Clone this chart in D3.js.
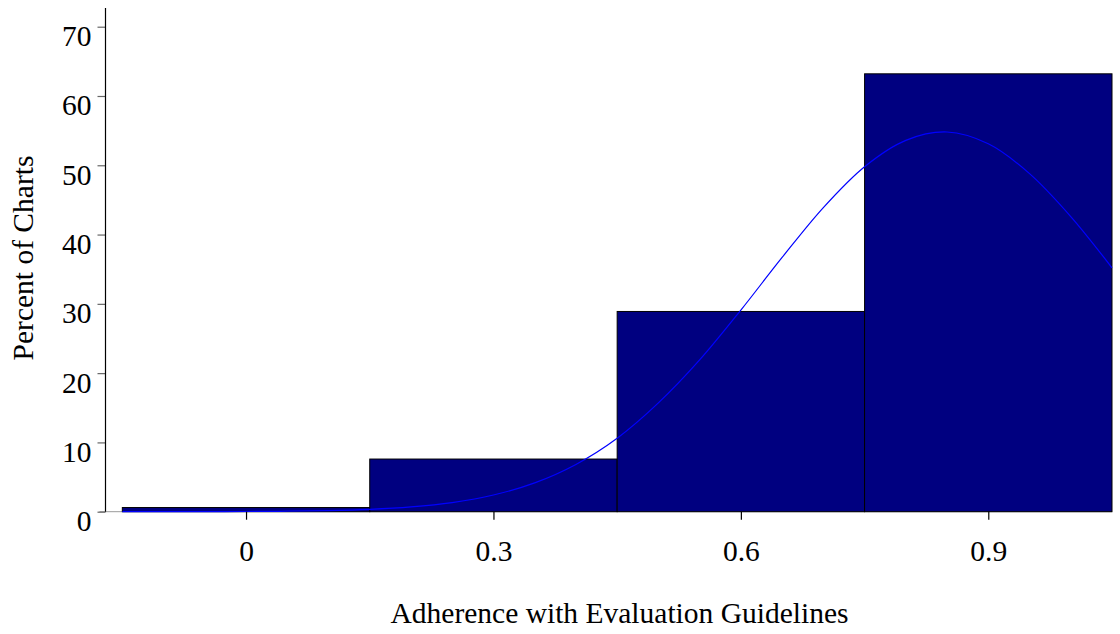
<!DOCTYPE html>
<html>
<head>
<meta charset="utf-8">
<script src="https://cdn.jsdelivr.net/npm/d3@7"></script>
<style>
  html, body { margin: 0; padding: 0; background: #fff; }
  svg { display: block; }
  text { font-family: "Liberation Serif", "Times New Roman", serif; fill: #000; }
</style>
</head>
<body>
<svg id="chart" width="1120" height="634"></svg>
<script>
// Histogram bins (centre of each bin) and the percent of charts in each
const binCenters = [0, 0.3, 0.6, 0.9];
const binWidth = 0.3;
const percents = [0.6, 7.6, 28.9, 63.2];

// Fitted density overlay, sampled along the x axis
const curveX = [-0.15, -0.1, -0.05, 0, 0.05, 0.1, 0.15, 0.2, 0.25, 0.3, 0.35, 0.4, 0.45, 0.5,
                0.55, 0.6, 0.65, 0.7, 0.75, 0.8, 0.85, 0.9, 0.95, 1.0, 1.05];
const curveY = [0.0, 0.0, 0.01, 0.03, 0.07, 0.16, 0.34, 0.69, 1.32, 2.41, 4.16, 6.82, 10.6, 15.7,
                21.9, 29.1, 36.7, 43.9, 49.8, 53.6, 54.8, 53.1, 48.8, 42.6, 35.2];

const xTicks = [0, 0.3, 0.6, 0.9];
const yTicks = [0, 10, 20, 30, 40, 50, 60, 70];

const fontSize = 29.5;

const svg = d3.select("#chart");

const plot = { left: 105.5, right: 1112, top: 8, bottom: 511.7 };

const x = d3.scaleLinear().domain([-0.1704, 1.05]).range([plot.left, plot.right]);
const y = d3.scaleLinear().domain([0, 72.7]).range([plot.bottom, plot.top]);

// baseline
svg.append("line")
  .attr("x1", plot.left - 6).attr("x2", plot.right)
  .attr("y1", y(0)).attr("y2", y(0))
  .attr("stroke", "#9a9a9a").attr("stroke-width", 1);

// bars
svg.append("g").selectAll("rect")
  .data(binCenters.map((c, i) => ({ c, v: percents[i] })))
  .join("rect")
  .attr("x", d => x(d.c - binWidth / 2))
  .attr("width", d => x(d.c + binWidth / 2) - x(d.c - binWidth / 2))
  .attr("y", d => y(d.v))
  .attr("height", d => y(0) - y(d.v))
  .attr("fill", "#000080")
  .attr("stroke", "#000")
  .attr("stroke-width", 1);

// density curve
const line = d3.line()
  .x(d => x(d[0]))
  .y(d => y(d[1]))
  .curve(d3.curveCatmullRom.alpha(0.5));

svg.append("path")
  .datum(curveX.map((v, i) => [v, curveY[i]]))
  .attr("d", line)
  .attr("fill", "none")
  .attr("stroke", "#0000ff")
  .attr("stroke-width", 1.2);

// y axis
const yAxis = d3.axisLeft(y).tickValues(yTicks).tickSize(8).tickPadding(6).tickSizeOuter(0);
const gy = svg.append("g").attr("transform", `translate(${plot.left},0)`).call(yAxis);
gy.select(".domain").remove();
gy.append("line")
  .attr("x1", 0).attr("x2", 0)
  .attr("y1", plot.top).attr("y2", plot.bottom)
  .attr("stroke", "#000").attr("stroke-width", 1.2);
gy.selectAll(".tick line").attr("stroke", "#666").attr("stroke-width", 1.2);
gy.selectAll(".tick text")
  .attr("font-size", fontSize)
  .attr("dy", "0.64em")
  .style("font-family", "'Liberation Serif', serif");

// x axis
const xAxis = d3.axisBottom(x).tickValues(xTicks).tickSize(8).tickPadding(20).tickSizeOuter(0)
  .tickFormat(d => d === 0 ? "0" : d3.format(".1f")(d));
const gx = svg.append("g").attr("transform", `translate(0,${plot.bottom})`).call(xAxis);
gx.select(".domain").remove();
gx.selectAll(".tick line").attr("stroke", "#000").attr("stroke-width", 1.2);
gx.selectAll(".tick text")
  .attr("font-size", fontSize)
  .style("font-family", "'Liberation Serif', serif");

// axis titles
svg.append("text")
  .attr("x", 619.5).attr("y", 623)
  .attr("text-anchor", "middle")
  .attr("font-size", fontSize)
  .text("Adherence with Evaluation Guidelines");

svg.append("text")
  .attr("transform", "translate(33,258) rotate(-90)")
  .attr("text-anchor", "middle")
  .attr("font-size", fontSize)
  .text("Percent of Charts");
</script>
</body>
</html>
